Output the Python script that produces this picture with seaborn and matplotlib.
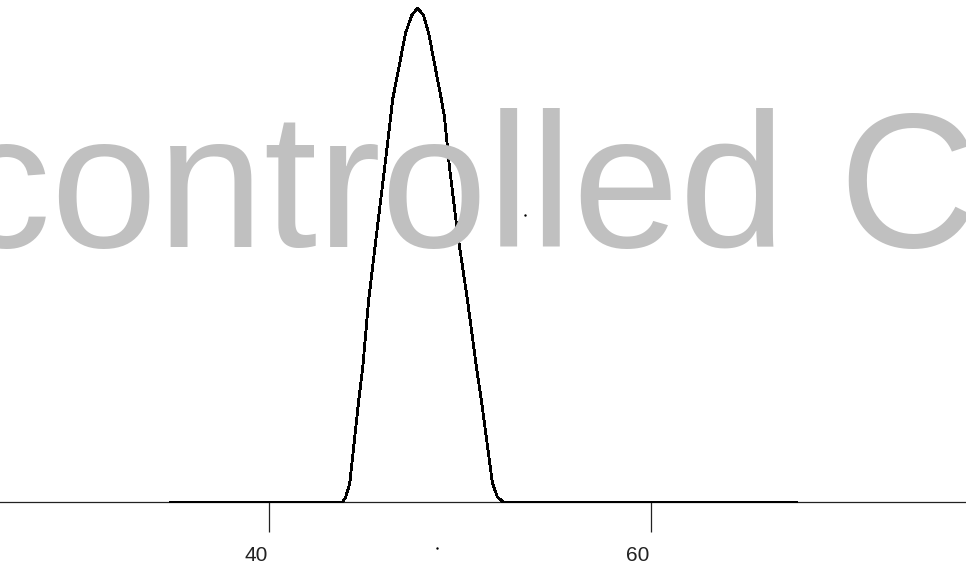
import matplotlib
matplotlib.use("Agg")
import matplotlib.pyplot as plt
from matplotlib.transforms import ScaledTranslation
import seaborn as sns
import pandas as pd

sns.set_style("white")
plt.rcParams['font.family'] = ['Liberation Sans', 'DejaVu Sans']

# Curve values (x in data units, height relative to peak)
curve_x = [34.83, 43.86, 44.02, 44.23, 44.70, 44.91, 45.22, 45.64, 46.06, 46.37,
           46.47, 47.15, 47.47, 47.78, 48.09, 48.36, 49.03, 49.19, 49.45, 49.87,
           50.39, 50.86, 51.12, 51.70, 51.96, 52.27, 67.62]
curve_y = [0.0, 0.0, 0.010, 0.038, 0.206, 0.273, 0.409, 0.545, 0.678, 0.779,
           0.814, 0.949, 0.985, 1.0, 0.985, 0.949, 0.814, 0.779, 0.678, 0.545,
           0.409, 0.273, 0.206, 0.038, 0.010, 0.0, 0.0]

tick_values = [40, 60]
tick_labels = ["40", "60"]

# stray dots visible in the picture
dot_x = [53.40, 48.80]
dot_y = [0.581, -0.093]

watermark = "controlled C"

df = pd.DataFrame({"x": curve_x, "y": curve_y})

W, H = 966, 570
base_px = 502
fig = plt.figure(figsize=(W / 100, H / 100), dpi=100)
ax = fig.add_axes([0, (H - base_px) / H, 1, base_px / H])

# watermark behind everything
fig.text(-0.047, (H - 247) / H, watermark, fontsize=138, color="#c0c0c0",
         ha="left", va="baseline", zorder=0, family=['Liberation Sans', 'DejaVu Sans'])
ax.set_facecolor("none")

sns.lineplot(data=df, x="x", y="y", ax=ax, color="black", lw=1.3, zorder=3,
             sort=False, antialiased=False, clip_on=False)
ax.scatter(dot_x, dot_y, s=3, color="black", clip_on=False, zorder=4, linewidths=0)

ax.set_xlim(25.92, 76.49)
ax.set_ylim(0, 1 + 8 / 494)

for s in ["top", "right", "left"]:
    ax.spines[s].set_visible(False)
ax.spines["bottom"].set_color("#222222")
ax.spines["bottom"].set_linewidth(0.9)

ax.set_yticks([])
ax.set_xticks(tick_values)
ax.set_xticklabels(tick_labels, fontsize=15, color="#222222")
ax.tick_params(axis="x", bottom=True, direction="out", length=21.6, width=0.9,
               color="#222222", pad=10)
for lab in ax.get_xticklabels():
    lab.set_transform(lab.get_transform() + ScaledTranslation(-0.13, 0, fig.dpi_scale_trans))
ax.set_xlabel("")
ax.set_ylabel("")

fig.savefig("out.png", dpi=100)
